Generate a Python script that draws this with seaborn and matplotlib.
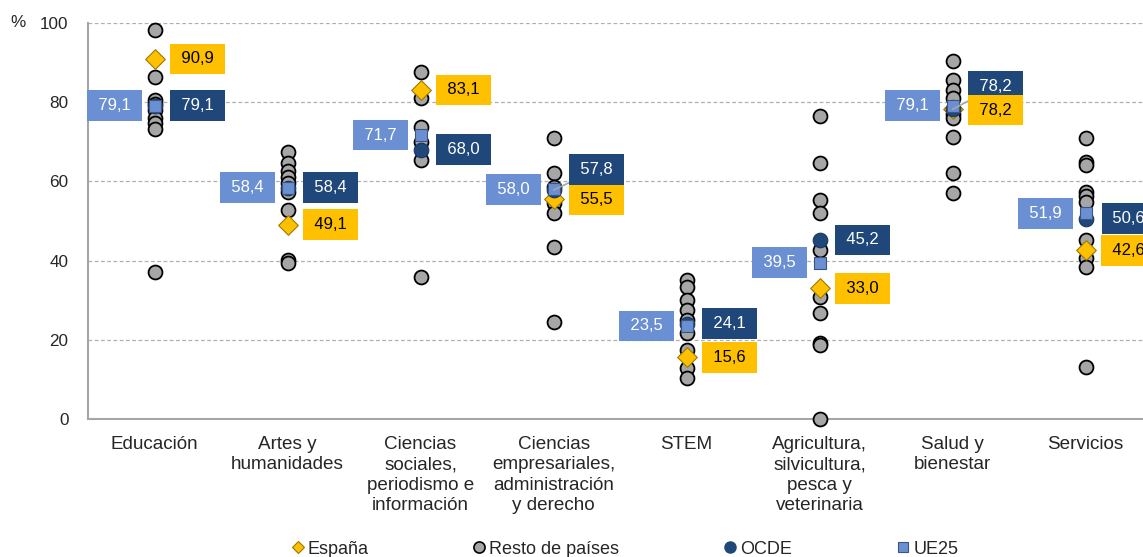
import numpy as np
import pandas as pd
import matplotlib.pyplot as plt
from matplotlib.lines import Line2D
from matplotlib.ticker import FixedLocator
import seaborn as sns

# === datos ===
areas = ["Educación", "Artes y\nhumanidades", "Ciencias\nsociales,\nperiodismo e\ninformación",
         "Ciencias\nempresariales,\nadministración\ny derecho", "STEM",
         "Agricultura,\nsilvicultura,\npesca y\nveterinaria", "Salud y\nbienestar", "Servicios"]

resto = [
    [98.2, 86.3, 80.6, 79.5, 78.0, 76.0, 74.7, 73.2, 37.0],
    [67.5, 64.6, 62.5, 61.2, 59.5, 57.4, 52.8, 40.2, 39.3],
    [87.7, 81.0, 73.8, 70.0, 65.4, 35.9],
    [70.9, 62.0, 58.5, 54.5, 51.9, 43.5, 24.6],
    [35.1, 33.4, 30.0, 27.5, 25.0, 21.6, 17.4, 12.8, 10.3],
    [76.5, 64.6, 55.3, 51.9, 42.7, 30.9, 26.7, 19.1, 18.6, 0.0],
    [90.4, 85.6, 83.1, 81.0, 77.0, 75.9, 71.3, 62.0, 57.1],
    [70.9, 65.0, 64.1, 57.4, 56.2, 54.9, 45.2, 40.6, 38.5, 13.2],
]
espana = [90.9, 49.1, 83.1, 55.5, 15.6, 33.0, 78.2, 42.6]
ocde = [79.1, 58.4, 68.0, 57.8, 24.1, 45.2, 78.2, 50.6]
ue25 = [79.1, 58.4, 71.7, 58.0, 23.5, 39.5, 79.1, 51.9]

# posiciones de etiquetas desplazadas (para evitar solapes)
ocde_label_y = {3: 63.0, 6: 84.0}
espana_label_y = {3: 55.3, 6: 78.0}

df_resto = pd.DataFrame([(a, v) for a, vals in zip(areas, resto) for v in vals], columns=["area", "pct"])
df_esp = pd.DataFrame({"area": areas, "pct": espana})
df_ocde = pd.DataFrame({"area": areas, "pct": ocde})
df_ue = pd.DataFrame({"area": areas, "pct": ue25})

# colores
c_gris = "#A6A6A6"
c_esp = "#FFC000"
c_ocde = "#1F4779"
c_ue = "#6A8FD3"

sns.set_style("white")
plt.rcParams["font.family"] = ["Liberation Sans", "DejaVu Sans"]

fig = plt.figure(figsize=(11.43, 5.57), dpi=100)
ax = fig.add_axes([0.077, 0.2478, 0.931, 0.711])

sns.stripplot(data=df_resto, x="area", y="pct", order=areas, jitter=False, color=c_gris,
              marker="o", size=10, edgecolor="black", linewidth=1.3, ax=ax, zorder=3)
sns.stripplot(data=df_esp, x="area", y="pct", order=areas, jitter=False, color=c_esp,
              marker="D", size=10, edgecolor="#9C7A00", linewidth=0.8, ax=ax, zorder=4)
sns.stripplot(data=df_ocde, x="area", y="pct", order=areas, jitter=False, color=c_ocde,
              marker="o", size=10.5, edgecolor="#17375E", linewidth=0.8, ax=ax, zorder=5)
sns.stripplot(data=df_ue, x="area", y="pct", order=areas, jitter=False, color=c_ue,
              marker="s", size=8.5, edgecolor="#3A5680", linewidth=0.8, ax=ax, zorder=6)
for coll in ax.collections:
    coll.set_clip_on(False)

# etiquetas de datos
def fmt(v):
    return "\u2009" + f"{v:.1f}".replace(".", ",") + "\u2009"

box = dict(boxstyle="square,pad=0.47", lw=0)
dx_r, dx_l = 0.325, -0.30
for i in range(len(areas)):
    ax.annotate(fmt(ue25[i]), xy=(i, ue25[i]), xytext=(i + dx_l, ue25[i]), textcoords="data",
                ha="center", va="center", fontsize=12, color="white",
                bbox=dict(box, fc=c_ue), zorder=7)
    yo = ocde_label_y.get(i, ocde[i])
    arrow = dict(arrowstyle="-", color="#A6A6A6", lw=1.2, shrinkA=0, shrinkB=0) if i in ocde_label_y else None
    ax.annotate(fmt(ocde[i]), xy=(i, ocde[i]), xytext=(i + dx_r, yo), textcoords="data",
                ha="center", va="center", fontsize=12, color="white",
                bbox=dict(box, fc=c_ocde), arrowprops=arrow, zorder=7)
    ye = espana_label_y.get(i, espana[i])
    ax.annotate(fmt(espana[i]), xy=(i, espana[i]), xytext=(i + dx_r, ye), textcoords="data",
                ha="center", va="center", fontsize=12, color="black",
                bbox=dict(box, fc=c_esp), zorder=7, annotation_clip=False)

# ejes
ax.set_ylim(0, 100)
ax.set_xlim(-0.5, len(areas) - 0.5)
ax.set_yticks(np.arange(0, 101, 20))
ax.set_xlabel("")
ax.set_ylabel("")
ax.yaxis.grid(True, color="#B0B0B0", linestyle=(0, (3, 2)), linewidth=0.9)
ax.xaxis.grid(False)
ax.set_axisbelow(True)
for s in ["top", "right"]:
    ax.spines[s].set_visible(False)
for s in ["left", "bottom"]:
    ax.spines[s].set_color("#A6A6A6")
    ax.spines[s].set_linewidth(1.5)
ax.xaxis.set_minor_locator(FixedLocator(np.arange(-0.5, len(areas), 1.0)))
ax.tick_params(axis="x", which="major", length=0, pad=12, labelsize=13.6)
ax.tick_params(axis="x", which="minor", length=6, color="#A6A6A6", width=1.2)
ax.tick_params(axis="y", length=6, color="#A6A6A6", width=1, pad=8, labelsize=12.3)
plt.setp(ax.get_xticklabels(), linespacing=1.27)
ax.text(-0.066, 1.0, "%", transform=ax.transAxes, fontsize=12.3, ha="center", va="center")

handles = [
    Line2D([], [], ls="none", marker="D", ms=6, mfc=c_esp, mec="#9C7A00", mew=0.8),
    Line2D([], [], ls="none", marker="o", ms=8, mfc=c_gris, mec="black", mew=1.2),
    Line2D([], [], ls="none", marker="o", ms=8, mfc=c_ocde, mec=c_ocde),
    Line2D([], [], ls="none", marker="s", ms=7, mfc=c_ue, mec="#3A5680", mew=0.8),
]
fig.legend(handles, ["España", "Resto de países", "OCDE", "UE25"], loc="center left",
           bbox_to_anchor=(293 / 1143, 1 - 549 / 557), ncol=4, frameon=False, fontsize=13,
           handlelength=0.5, handletextpad=0.3, columnspacing=5.9, borderpad=0, borderaxespad=0)

plt.savefig("out.png", dpi=100)
